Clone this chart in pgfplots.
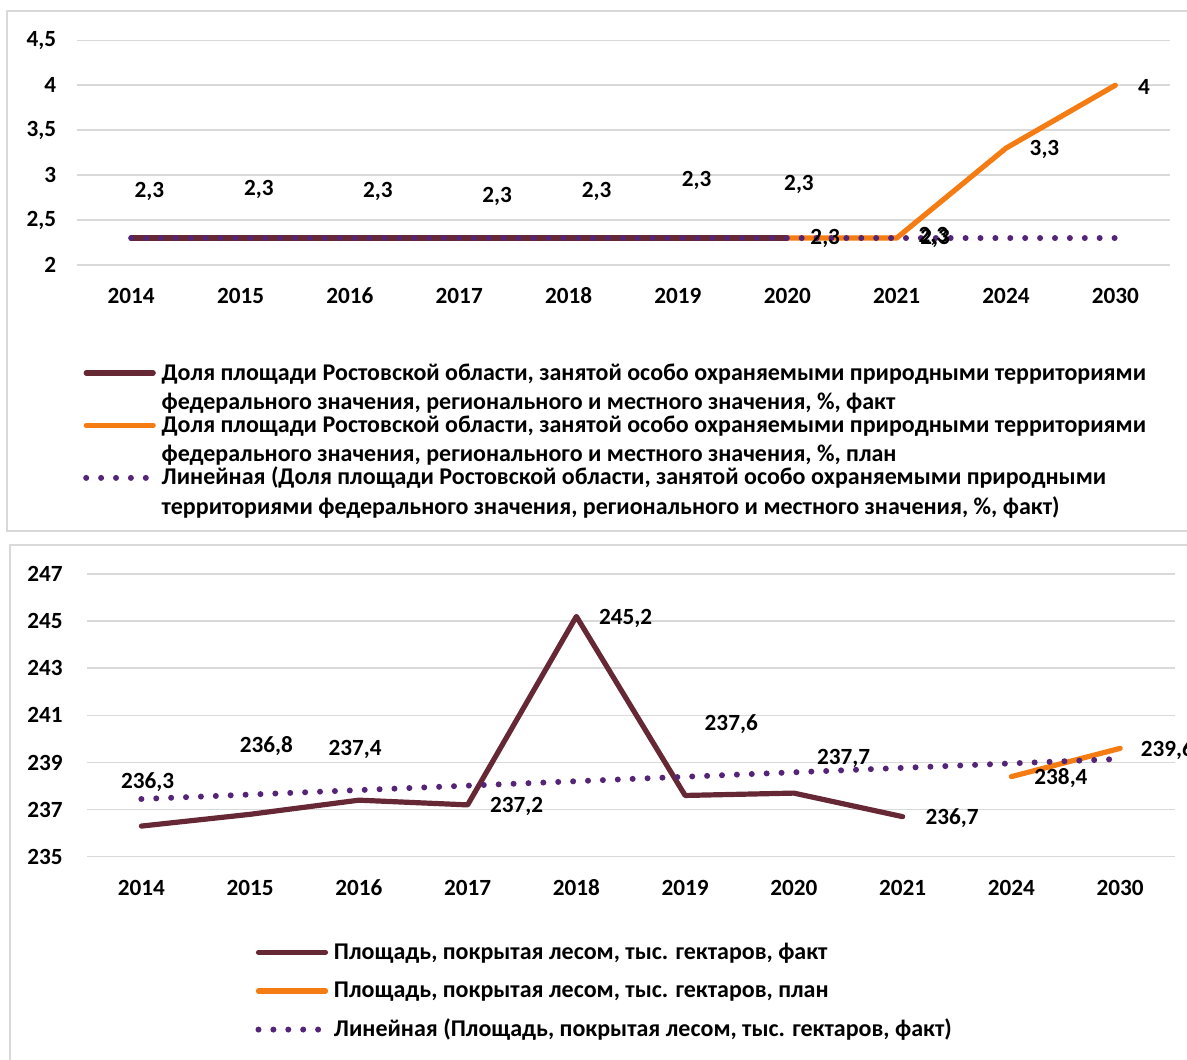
\documentclass[border=0pt]{standalone}
\usepackage{pgfplots}
\pgfplotsset{compat=1.18}
\usepackage{fontspec}
\setmainfont{Carlito}
\definecolor{maroonc}{RGB}{103,40,53}
\definecolor{orangec}{RGB}{245,124,18}
\definecolor{purplec}{RGB}{84,36,118}
\definecolor{gridc}{RGB}{217,217,217}
\newcommand{\lf}{\fontsize{11.6}{14}\selectfont\bfseries}
\newcommand{\legf}{\fontsize{12}{14.75}\selectfont\bfseries}
\tikzset{lbl/.style={font=\lf, inner sep=0pt, anchor=center}}
\pgfplotsset{
  common/.style={
    scale only axis, clip=false, anchor=south west,
    xmin=-0.5, xmax=9.5, xtick={0,...,9},
    xticklabels={2014,2015,2016,2017,2018,2019,2020,2021,2024,2030},
    ymajorgrids, grid style={gridc, line width=0.75pt},
    axis line style={draw=none}, major tick length=0pt,
    tick label style={font=\lf},
    /pgf/number format/use comma, /pgf/number format/assume math mode=true,
    legend style={draw=none, fill=none, inner sep=0pt, outer sep=0pt, anchor=north west,
      font=\legf, cells={anchor=base west}, nodes={inner sep=0pt}, column sep=2.75pt},
    legend image code/.code={\draw[##1] (0pt,3.5pt) -- (33.5pt,3.5pt);},
  },
  fact/.style={maroonc, line width=2.6pt, line cap=round, line join=round},
  plan/.style={orangec, line width=2.6pt, line cap=round, line join=round},
  trend/.style={purplec, line width=3pt, line cap=round, dash pattern=on 0pt off 7.45pt},
}
\begin{document}
\begin{tikzpicture}
% frames
\draw[gridc, line width=1pt] (3.25pt,-5.35pt) rectangle (600pt,-265.5pt);
\draw[gridc, line width=1pt] (4.8pt,-272.5pt) rectangle (600pt,-540pt);

\begin{axis}[common,
  at={(38.25pt,-132.5pt)}, width=546.75pt, height=112.35pt,
  ymin=2, ymax=4.5, ytick={2,2.5,3,3.5,4,4.5},
  xticklabel style={anchor=north, inner sep=0pt, text height=7.33pt, text depth=0pt, yshift=-11.85pt},
  yticklabel style={anchor=east, inner sep=0pt, xshift=-10pt},
  legend style={at={(0.00613,-0.41989)}, row sep=14.4pt},
]
\addplot[fact] coordinates {(0,2.3) (1,2.3) (2,2.3) (3,2.3) (4,2.3) (5,2.3) (6,2.3)};
\addlegendentry{\begin{tabular}[t]{@{}l@{}}Доля площади Ростовской области, занятой особо охраняемыми природными территориями\\федерального значения, регионального и местного значения, \%, факт\end{tabular}}
\addplot[plan] coordinates {(6,2.3) (7,2.3) (8,3.3) (9,4)};
\addlegendentry{\begin{tabular}[t]{@{}l@{}}Доля площади Ростовской области, занятой особо охраняемыми природными территориями\\федерального значения, регионального и местного значения, \%, план\end{tabular}}
\addplot[trend] coordinates {(0,2.3) (9,2.3)};
\addlegendentry{\begin{tabular}[t]{@{}l@{}}Линейная (Доля площади Ростовской области, занятой особо охраняемыми природными\\территориями федерального значения, регионального и местного значения, \%, факт)\end{tabular}}
\node[lbl] at (axis cs:0.166,2.814) {2,3};
\node[lbl] at (axis cs:1.168,2.837) {2,3};
\node[lbl] at (axis cs:2.256,2.814) {2,3};
\node[lbl] at (axis cs:3.346,2.763) {2,3};
\node[lbl] at (axis cs:4.256,2.814) {2,3};
\node[lbl] at (axis cs:5.171,2.936) {2,3};
\node[lbl] at (axis cs:6.107,2.898) {2,3};
\node[lbl] at (axis cs:6.347,2.292) {2,3};
\node[lbl] at (axis cs:7.351,2.297) {2,3};
\node[lbl] at (axis cs:7.335,2.322) {2,3};
\node[lbl] at (axis cs:8.352,3.287) {3,3};
\node[lbl] at (axis cs:9.262,3.978) {4};
\end{axis}

\begin{axis}[common,
  at={(43.5pt,-428.35pt)}, width=543.75pt, height=141.35pt,
  ymin=235, ymax=247, ytick={235,237,...,247},
  xticklabel style={anchor=north, inner sep=0pt, text height=7.33pt, text depth=0pt, yshift=-12pt},
  yticklabel style={anchor=east, inner sep=0pt, xshift=-12pt},
  legend style={at={(0.15494,-0.2897)}, row sep=7.5pt},
]
\addplot[fact] coordinates {(0,236.3) (1,236.8) (2,237.4) (3,237.2) (4,245.2) (5,237.6) (6,237.7) (7,236.7)};
\addlegendentry{\begin{tabular}[t]{@{}l@{}}Площадь, покрытая лесом, тыс. гектаров, факт\end{tabular}}
\addplot[plan] coordinates {(8,238.4) (9,239.6)};
\addlegendentry{\begin{tabular}[t]{@{}l@{}}Площадь, покрытая лесом, тыс. гектаров, план\end{tabular}}
\addplot[trend] coordinates {(0,237.45) (9,239.15)};
\addlegendentry{\begin{tabular}[t]{@{}l@{}}Линейная (Площадь, покрытая лесом, тыс. гектаров, факт)\end{tabular}}
\node[lbl] at (axis cs:0.058,238.18) {236,3};
\node[lbl] at (axis cs:1.150,239.71) {236,8};
\node[lbl] at (axis cs:1.965,239.54) {237,4};
\node[lbl] at (axis cs:3.450,237.14) {237,2};
\node[lbl] at (axis cs:4.452,245.12) {245,2};
\node[lbl] at (axis cs:5.424,240.64) {237,6};
\node[lbl] at (axis cs:6.457,239.18) {237,7};
\node[lbl] at (axis cs:7.455,236.64) {236,7};
\node[lbl] at (axis cs:8.456,238.34) {238,4};
\node[lbl] at (axis cs:9.435,239.53) {239,6};
\end{axis}
\pgfresetboundingbox
\path (0pt,0pt) rectangle (593.5pt,-529.5pt);
\end{tikzpicture}
\end{document}
